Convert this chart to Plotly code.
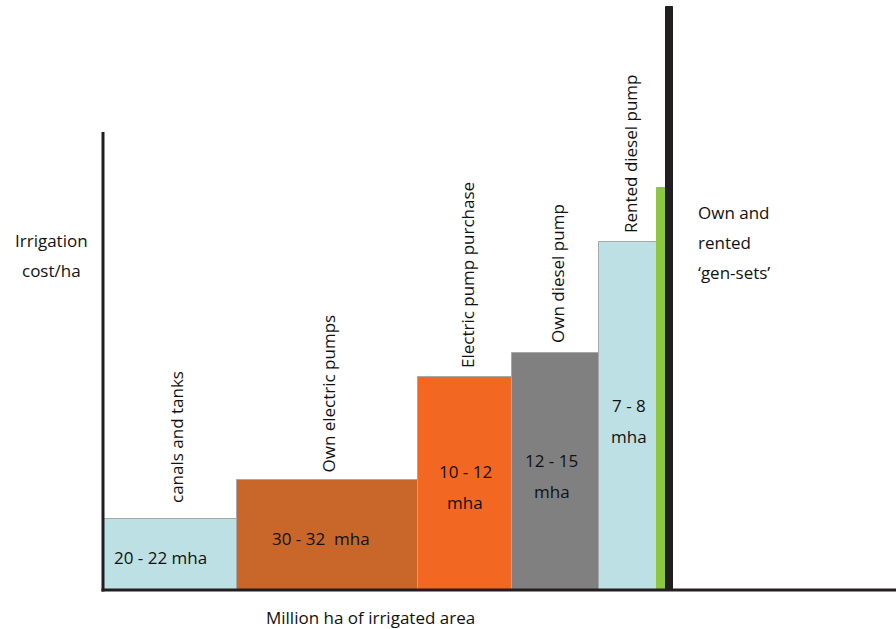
import plotly.graph_objects as go

# Data (relative units)
categories = ["canals and tanks", "Own electric pumps", "Electric pump purchase",
              "Own diesel pump", "Rented diesel pump", "gen-sets (green)", "gen-sets (black)"]
widths = [134, 181, 94, 87, 58, 9, 7]          # relative irrigated area
costs = [71, 110, 213, 237, 348, 402, 583]      # relative irrigation cost/ha
area_labels = [["20 - 22 mha"], ["30 - 32  mha"], ["10 - 12", "mha"],
               ["12 - 15", "mha"], ["7 - 8", "mha"]]
colors = ["#bde0e4", "#c9662a", "#f26722", "#808080", "#bde0e4", "#8dc63f", "#231f20"]
line_colors = ["#a8a8a8", "#a8a8a8", "#a8a8a8", "#a8a8a8", "#a8a8a8", "#8dc63f", "#231f20"]

lefts = []
acc = 0
for w in widths:
    lefts.append(acc)
    acc += w
centers = [l + w / 2 for l, w in zip(lefts, widths)]

FONT = "Open Sans"
FS = 17
TXT = "#111111"
fig = go.Figure()
fig.add_trace(go.Bar(
    x=centers, y=costs, width=widths, base=0,
    marker=dict(color=colors, line=dict(color=line_colors, width=1)),
    hoverinfo="skip", showlegend=False,
))

# y axis line (shorter than plot)
fig.add_trace(go.Scatter(x=[0, 0], y=[-1.5, 458], mode="lines",
                         line=dict(color="#231f20", width=3), showlegend=False, hoverinfo="skip"))
# x axis line
fig.add_trace(go.Scatter(x=[-1.5, 793], y=[0, 0], mode="lines",
                         line=dict(color="#231f20", width=3), showlegend=False, hoverinfo="skip"))

# rotated category labels above bars
label_gap = [14, 5, 7, 8, 7]
label_dx = [6, 0, 2, 2, 2]
for i in range(5):
    fig.add_annotation(x=centers[i], y=costs[i], xref="x", yref="y",
                       text=categories[i], textangle=-90, showarrow=False,
                       xanchor="center", yanchor="bottom", yshift=label_gap[i], xshift=label_dx[i],
                       font=dict(family=FONT, size=FS, color=TXT))
# inside labels
inside_y = [33, 52, 103.5, 114.5, 169.5]
inside_dx = [-10, -7, 0, -4, 1]
for i in range(5):
    lines = area_labels[i]
    n = len(lines)
    for j, ln in enumerate(lines):
        fig.add_annotation(x=centers[i], y=inside_y[i], xref="x", yref="y",
                           text=ln, showarrow=False, xanchor="center", yanchor="middle",
                           xshift=inside_dx[i], yshift=(n - 1) * 15.5 - j * 31,
                           font=dict(family=FONT, size=FS, color=TXT))

W, H = 896, 629
ML, MB = 99, 35
PW, PH = W - ML, H - MB


def px_to_paper(px, py):
    return (px - ML) / PW, (PH - py) / PH


ix, iy = px_to_paper(51, 255)
for j, ln in enumerate(["Irrigation", "cost/ha"]):
    fig.add_annotation(x=ix, y=iy, xref="paper", yref="paper", text=ln,
                       showarrow=False, xanchor="center", yanchor="middle",
                       yshift=15 - j * 30, font=dict(family=FONT, size=FS, color=TXT))
mx, my = px_to_paper(370, 617)
fig.add_annotation(x=mx, y=my, xref="paper", yref="paper",
                   text="Million ha of irrigated area",
                   showarrow=False, xanchor="center", yanchor="middle",
                   font=dict(family=FONT, size=FS, color=TXT))
for j, ln in enumerate(["Own and", "rented", "\u2018gen-sets\u2019"]):
    fig.add_annotation(x=593, y=378, xref="x", yref="y", text=ln,
                       showarrow=False, xanchor="left", yanchor="middle",
                       yshift=-j * 30, font=dict(family=FONT, size=FS, color=TXT))

fig.update_layout(
    width=W, height=H,
    margin=dict(l=ML, r=0, t=0, b=MB, pad=0),
    paper_bgcolor="white", plot_bgcolor="white",
    xaxis=dict(range=[-4, 793], visible=False, fixedrange=True),
    yaxis=dict(range=[-4, 590], visible=False, fixedrange=True),
    bargap=0,
)
fig.write_html("out.html", config={"displayModeBar": False},
               post_script="document.body.style.margin='0';")
